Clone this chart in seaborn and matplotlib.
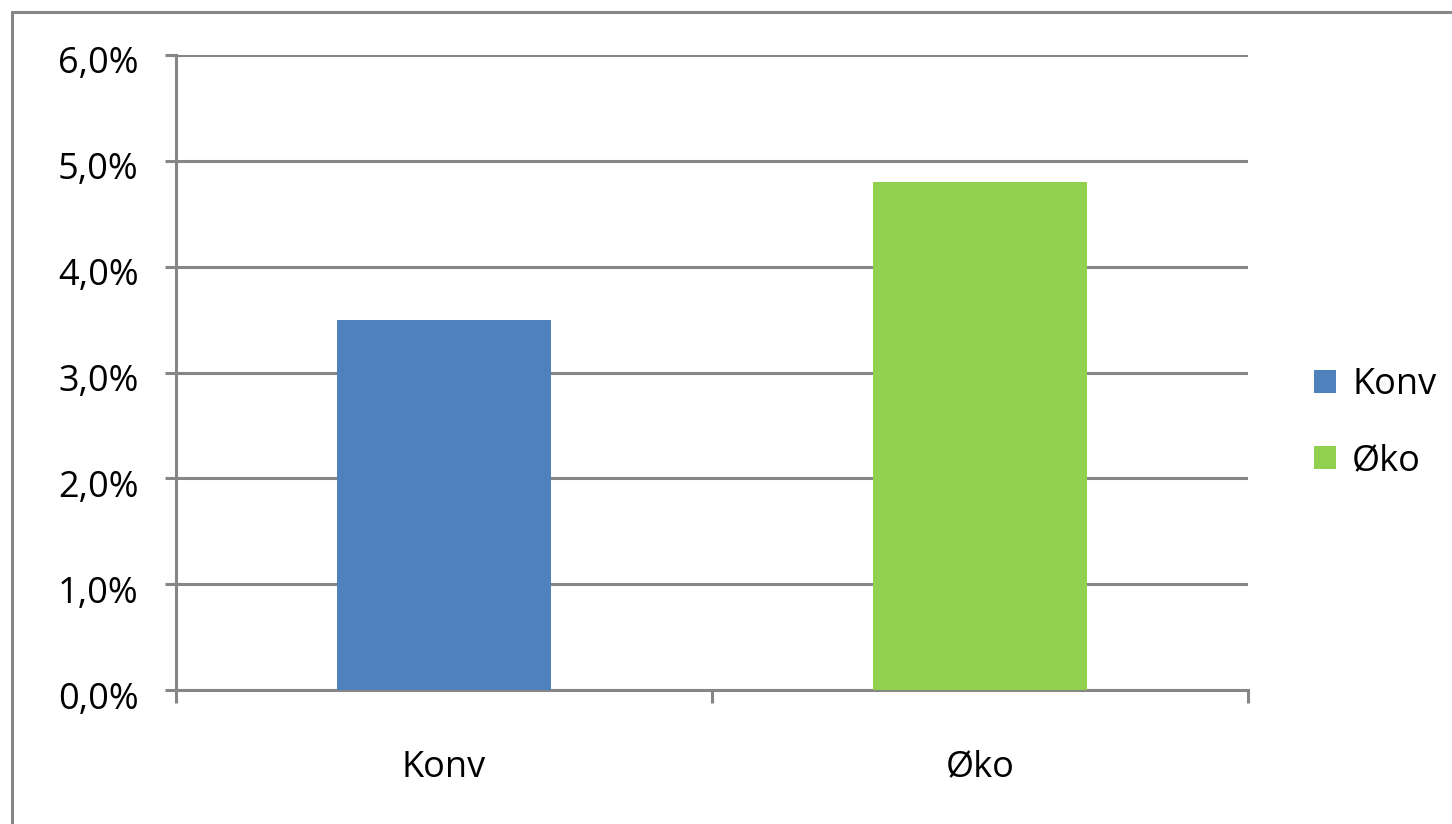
#!/usr/bin/env python3
"""Bar chart: Konv vs Øko share, Excel-style look."""

import matplotlib
matplotlib.use("Agg")

import matplotlib.pyplot as plt
from matplotlib.lines import Line2D
from matplotlib.ticker import FixedLocator, FuncFormatter
from matplotlib.transforms import ScaledTranslation
import seaborn as sns

categories = ["Konv", "Øko"]
values_pct = [3.5, 4.8]
bar_colors = ["#4F81BD", "#92D050"]
y_ticks = [0, 1, 2, 3, 4, 5, 6]

GRAY = "#868686"
W, H = 1452, 824
FS = 26

sns.set_theme(style="white")
plt.rcParams["font.family"] = ["Open Sans", "DejaVu Sans"]

fig = plt.figure(figsize=(W / 100, H / 100), dpi=100)
ax = fig.add_axes([176 / W, 1 - 690 / H, (1248 - 176) / W, (690 - 55) / H])

sns.barplot(x=categories, y=values_pct, hue=categories, palette=bar_colors,
            width=0.4, legend=True, ax=ax, saturation=1, linewidth=0, zorder=3)

ax.set_ylim(0, 6)
ax.set_xlim(-0.5, 1.5)
ax.yaxis.set_major_locator(FixedLocator(y_ticks))
ax.yaxis.set_major_formatter(FuncFormatter(lambda v, _: f"{v:.1f}%".replace(".", ",")))
ax.grid(axis="y", color=GRAY, linewidth=2.2, zorder=0)
ax.set_axisbelow(True)

for side in ["top", "right"]:
    ax.spines[side].set_visible(False)
for side in ["left", "bottom"]:
    ax.spines[side].set_color(GRAY)
    ax.spines[side].set_linewidth(2.2)

ax.tick_params(axis="y", direction="out", length=8, width=2.2, color=GRAY,
               labelsize=FS, labelcolor="black", pad=19, left=True)
# category boundaries carry the x ticks, labels sit at the centres
ax.set_xticks([-0.5, 0.5, 1.5], minor=True)
ax.tick_params(axis="x", which="minor", direction="out", length=9, width=2.2, color=GRAY, bottom=True)
ax.tick_params(axis="x", which="major", length=0, labelsize=FS, labelcolor="black", pad=43)
ax.set_xlabel("")
ax.set_ylabel("")

# Excel puts the value labels a touch below their gridline
shift = ScaledTranslation(0, -5 / 100, fig.dpi_scale_trans)
for lab in ax.get_yticklabels():
    lab.set_transform(lab.get_transform() + shift)

handles, labels = ax.get_legend_handles_labels()
leg = ax.legend(handles, labels, loc="center left", bbox_to_anchor=(1289 / W, 1 - 423 / H),
                bbox_transform=fig.transFigure, frameon=False, fontsize=FS,
                handlelength=0.6, handleheight=0.6, handletextpad=0.45, labelspacing=1.1,
                borderpad=0.2)
for t in leg.get_texts():
    t.set_color("black")

# outer chart border (only top and left edges fall inside the image)
bx, by = 12 / W, 1 - 12 / H
fig.add_artist(Line2D([bx, 1], [by, by], color=GRAY, linewidth=2.2, transform=fig.transFigure))
fig.add_artist(Line2D([bx, bx], [0, by], color=GRAY, linewidth=2.2, transform=fig.transFigure))

fig.savefig("out.png", dpi=100, facecolor="white")
